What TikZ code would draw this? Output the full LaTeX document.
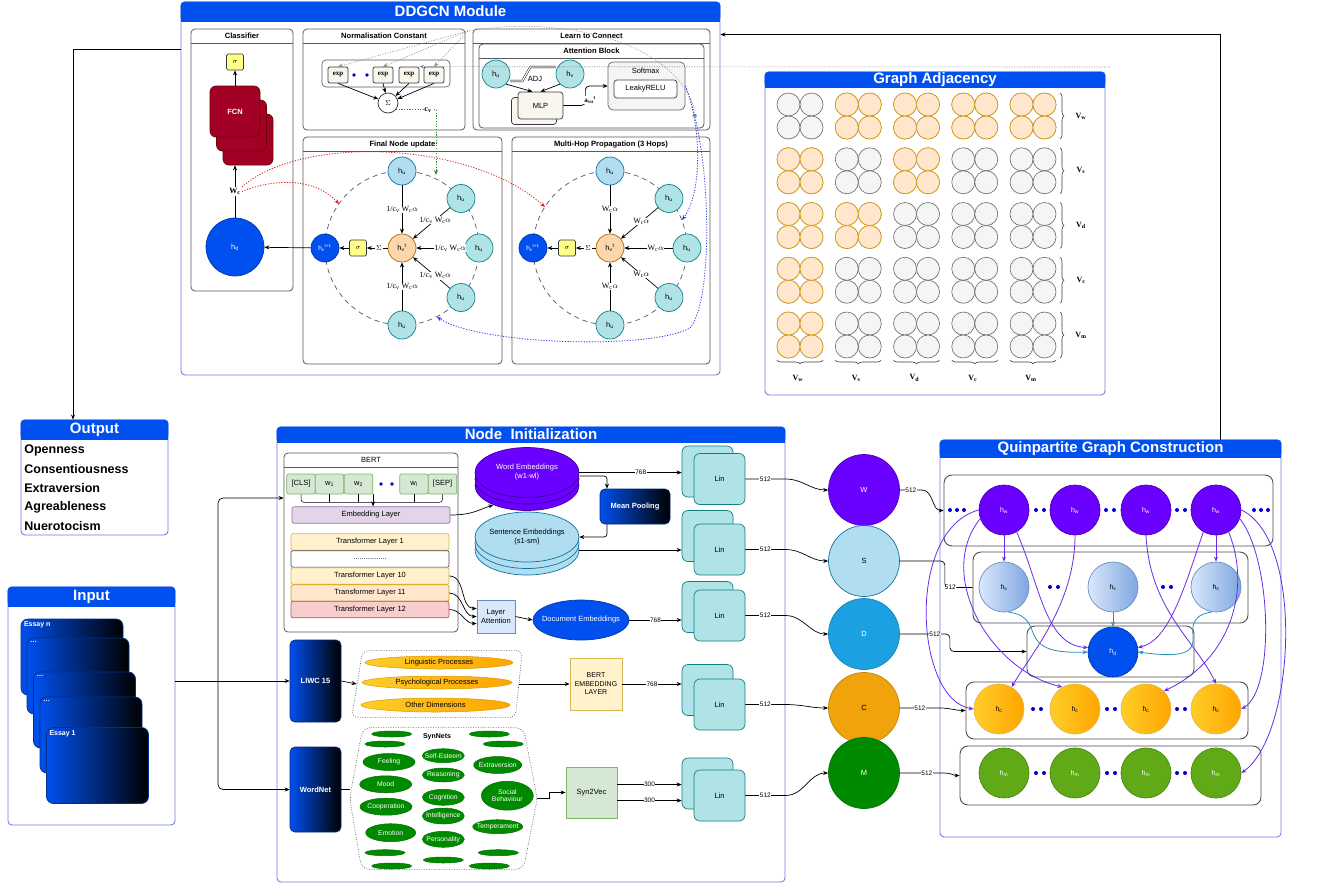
\documentclass[tikz,border=0pt]{standalone}
\usepackage{amsmath}
\usepackage{fontspec}
\setmainfont{Liberation Sans}
\newfontfamily\timesf{Liberation Serif}
\usepackage{tikz}
\usetikzlibrary{arrows.meta,positioning,shapes.geometric,decorations.pathreplacing}

\definecolor{hdrblue}{HTML}{0050EF}
\definecolor{panelln}{HTML}{6F7CE3}
\definecolor{dotblue}{HTML}{0000CC}
\definecolor{tealf}{HTML}{B0E3E6}
\definecolor{teald}{HTML}{0E8088}
\definecolor{lbf}{HTML}{B1DDF0}
\definecolor{lbd}{HTML}{10739E}
\definecolor{orf}{HTML}{FAD7AC}
\definecolor{ord}{HTML}{B46504}
\definecolor{adjof}{HTML}{FFE6CC}
\definecolor{adjod}{HTML}{D79B00}
\definecolor{adjgf}{HTML}{F5F5F5}
\definecolor{adjgd}{HTML}{666666}
\definecolor{wepur}{HTML}{6A00FF}
\definecolor{fcnred}{HTML}{A20025}
\definecolor{fcnd}{HTML}{6F0000}
\definecolor{sigf}{HTML}{FFFF88}
\definecolor{sigd}{HTML}{36393D}
\definecolor{syngreen}{HTML}{008A00}
\definecolor{hmgreen}{HTML}{60A917}
\definecolor{dcyan}{HTML}{1BA1E2}
\definecolor{corange}{HTML}{F0A30A}
\definecolor{tokf}{HTML}{D5E8D4}
\definecolor{tokd}{HTML}{82B366}
\definecolor{embf}{HTML}{E1D5E7}
\definecolor{embd}{HTML}{9673A6}
\definecolor{tly}{HTML}{FFF2CC}
\definecolor{tlyd}{HTML}{D6B656}
\definecolor{tlo}{HTML}{FFE6CC}
\definecolor{tlod}{HTML}{D79B00}
\definecolor{tlr}{HTML}{F8CECC}
\definecolor{tlrd}{HTML}{B85450}
\definecolor{laf}{HTML}{DAE8FC}
\definecolor{lad}{HTML}{6C8EBF}
\definecolor{hsr}{HTML}{7EA6E0}
\definecolor{mlpf}{HTML}{F9F7ED}
\definecolor{yor}{HTML}{FFCD28}
\definecolor{dor}{HTML}{FFA500}
\definecolor{epur}{HTML}{6A2BE8}
\definecolor{eteal}{HTML}{2A8FB0}
\definecolor{rdot}{HTML}{E02020}
\definecolor{gdot}{HTML}{2E8B2E}
\definecolor{bdot}{HTML}{2B3BEB}

\tikzset{
    %Define standard arrow tip
    >={Stealth[length=5pt,width=4pt]},
    %big panels with a blue header
    panel/.style={rounded corners=4pt, draw=panelln, fill=white, line width=0.9pt},
    hdrtxt/.style={text=white, font=\fontsize{15}{16}\selectfont\bfseries},
    %inner boxes
    subbox/.style={rounded corners=4pt, draw=black!65, line width=0.8pt},
    subtxt/.style={font=\fontsize{7.6}{8}\selectfont\bfseries},
    qrow/.style={rounded corners=8pt, draw=black!70, line width=0.9pt},
    %circles
    hnode/.style={circle, draw, inner sep=0pt, minimum size=#1},
    hn/.style={hnode=50, font=\fontsize{7}{8}\selectfont},
    bigc/.style={hnode=71, font=\fontsize{7.5}{8}\selectfont},
    %small boxes
    sigbox/.style={rounded corners=1.5pt, fill=sigf, draw=sigd, minimum width=17, minimum height=16, inner sep=0pt, font=\fontsize{7}{8}\selectfont\bfseries},
    expbox/.style={rounded corners=2pt, fill=mlpf, draw=sigd, minimum width=20, minimum height=16, inner sep=0pt, font=\timesf\fontsize{7}{8}\selectfont\bfseries},
    fcnbox/.style={rounded corners=6pt, fill=fcnred, draw=fcnd, minimum width=50, minimum height=51, text=white, font=\fontsize{7.5}{8}\selectfont\bfseries},
    mlpbox/.style={rounded corners=3pt, fill=mlpf, draw=sigd, minimum width=45, minimum height=27},
    softbox/.style={rounded corners=5pt, fill=adjgf, draw=adjgd, minimum width=77, minimum height=48},
    lrelu/.style={rounded corners=3pt, fill=white, draw=black!75, minimum width=63, minimum height=18},
    tok/.style={rounded corners=2pt, fill=tokf, draw=tokd, minimum width=28.5, minimum height=20, inner sep=0pt},
    lay/.style={rounded corners=2pt, minimum width=158, minimum height=16.5, inner sep=0pt},
    labox/.style={fill=laf, draw=lad, minimum width=38, minimum height=33, inner sep=0pt, align=center},
    ell/.style={ellipse, inner sep=0pt},
    grad/.style={rounded corners=5pt, left color=hdrblue, right color=black, draw=hdrblue!50!black, text=white, font=\fontsize{7.5}{9}\selectfont\bfseries, inner sep=0pt},
    linbox/.style={rounded corners=6pt, fill=tealf, draw=teald, minimum width=51, minimum height=51},
    bebox/.style={fill=tly, draw=tlyd, minimum width=52, minimum height=52, inner sep=0pt, align=center, font=\fontsize{7}{8.5}\selectfont},
    s2vbox/.style={fill=tokf, draw=tokd, minimum width=51, minimum height=51},
    orell/.style={ellipse, inner sep=0pt, left color=yor, right color=dor, draw=adjod, line width=0.5pt},
    syn/.style={ellipse, inner sep=0pt, fill=syngreen, draw=syngreen!80!black, line width=0.5pt},
    syntxt/.style={text=white, font=\fontsize{6.8}{7.5}\selectfont, align=center},
    card/.style={rounded corners=7pt, left color=hdrblue, right color=black, draw=hdrblue!60!black, minimum width=102, minimum height=76},
    cardtxt/.style={text=white, font=\fontsize{7}{8}\selectfont\bfseries, inner sep=3pt},
    outitem/.style={font=\fontsize{12.5}{14}\selectfont\bfseries, inner sep=0pt},
    adjg/.style={fill=adjgf, draw=adjgd, line width=0.6pt},
    adjo/.style={fill=adjof, draw=adjod, line width=0.6pt},
    brc/.style={decorate, decoration={brace, amplitude=4pt}, draw=black!75, line width=0.6pt},
    % labels on connectors
    elbl/.style={fill=white, inner sep=0.5pt, font=\timesf\fontsize{8}{9}\selectfont},
    blbl/.style={fill=white, inner sep=0.5pt, font=\timesf\fontsize{8}{9}\selectfont\bfseries},
    nlbl/.style={fill=white, inner sep=0.5pt, font=\fontsize{6.5}{7}\selectfont},
    % connectors
    pe/.style={->, draw=epur, line width=0.8pt},
    te/.style={->, draw=eteal, line width=0.8pt},
    rdl/.style={->, draw=rdot, dash pattern=on 1.2pt off 1.5pt, line width=0.8pt},
    gdl/.style={->, draw=gdot, dash pattern=on 1.2pt off 1.5pt, line width=0.8pt},
    bdl/.style={->, draw=bdot, dash pattern=on 1.2pt off 1.5pt, line width=0.8pt},
    ydl/.style={draw=black!45, dash pattern=on 1pt off 1.5pt, line width=0.6pt},
    ddl/.style={draw=black!65, dash pattern=on 5pt off 4pt, line width=0.7pt}
}

\begin{document}
\begin{tikzpicture}[x=1pt, y=-1pt, line width=0.7pt, font=\fontsize{7.5}{9}\selectfont]
\useasboundingbox (0,0) rectangle (1325,887);

% panels
\node[panel, minimum width=539, minimum height=373] (ddgcn) at (450.5,188.5) {};
\node[panel, minimum width=340, minimum height=323] (gadj) at (935,233.5) {};
\node[panel, minimum width=147, minimum height=115] (outp) at (94.5,477.5) {};
\node[panel, minimum width=167, minimum height=238] (inp) at (91.5,706) {};
\node[panel, minimum width=508, minimum height=455] (ninit) at (531,654.5) {};
\node[panel, minimum width=341, minimum height=397] (quin) at (1110.5,638.5) {};
\foreach \p/\hh/\hm/\lab in {ddgcn/20/10/DDGCN Module, gadj/16/8/Graph Adjacency, outp/20/10/Output,
    inp/20/10/Input, ninit/16/8/Node\ \ Initialization, quin/18/9/Quinpartite Graph Construction}{
  \fill[hdrblue, rounded corners=4pt] (\p.north west) rectangle ([yshift=-\hh pt]\p.north east);
  \fill[hdrblue] ([yshift=-\hm pt]\p.north west) rectangle ([yshift=-\hh pt]\p.north east);
  \node[hdrtxt] (\p-t) at ([yshift=-\hm pt]\p.north) {\lab};
}

%---------------- DDGCN module
\node[subbox, minimum width=102, minimum height=262] (clsf) at (242,160) {};
\node[subbox, minimum width=162, minimum height=101] (norm) at (384,79.5) {};
\node[subbox, minimum width=237, minimum height=101] (learn) at (591.5,79.5) {};
\node[subbox, minimum width=199, minimum height=227] (fnu) at (402.5,250.5) {};
\node[subbox, minimum width=198, minimum height=227] (mhp) at (611,250.5) {};
\foreach \b/\lab in {clsf/Classifier, norm/Normalisation Constant, learn/Learn to Connect,
    fnu/Final Node update, mhp/Multi-Hop Propagation (3 Hops)}{
  \draw[subbox] ([yshift=-15pt]\b.north west) -- ([yshift=-15pt]\b.north east);
  \node[subtxt] (\b-t) at ([yshift=-7.5pt]\b.north) {\lab};
}
\node[subbox, minimum width=225, minimum height=84] (attn) at (591.5,86) {};
\draw[subbox] ([yshift=-15pt]attn.north west) -- ([yshift=-15pt]attn.north east);
\node[subtxt] (attn-t) at ([yshift=-7.5pt]attn.north) {Attention Block};

% classifier
\node[sigbox] (sig0) at (235,62) {$\sigma$};
\node[fcnbox] (fcn3) at (248,139.5) {};
\node[fcnbox] (fcn2) at (241.5,125.5) {};
\node[fcnbox] (fcn) at (235,111.5) {FCN};
\node[hnode=58, fill=hdrblue, draw=hdrblue!70!black, text=white] (hdc) at (235,247) {h\textsubscript{d}};
\draw[->] (fcn.north) -- (sig0.south);
\draw[->] (hdc.north) -- node[blbl, inner sep=1pt] (wc) {W\textsubscript{c}} (hdc.north |- fcn3.south);

% normalisation constant
\node[subbox, line width=0.6pt, minimum width=128, minimum height=27] (expg) at (386,73.5) {};
\node[expbox] (exp1) at (338,75) {exp};
\node[expbox] (exp2) at (383,75) {exp};
\node[expbox] (exp3) at (409,75) {exp};
\node[expbox] (exp4) at (434,75) {exp};
\fill[dotblue] (354,75) circle (1.8) (367,75) circle (1.8);
\node[hnode=20, fill=white, draw=black!80] (sum0) at (388,103) {$\Sigma$};
\foreach \e in {exp1,exp2,exp3,exp4} \draw[->] (\e.south) -- (sum0);
\coordinate (cvin) at (436,175);
\draw[gdl] (sum0.-40) -| node[blbl, pos=0.4] {c\textsubscript{v}} (cvin);

% learn to connect
\node[hnode=28, fill=tealf, draw=teald] (hu0) at (496,74) {h\textsubscript{u}};
\node[hnode=28, fill=tealf, draw=teald] (hv0) at (570,74) {h\textsubscript{v}};
\draw[double, double distance=1.2pt, line width=0.45pt] ([yshift=-7pt]hu0.east) -- ++(12,0) -- ++(8,-14) -- ([yshift=7pt]hv0.west);
\node (adj) at (535,79) {ADJ};
\node[mlpbox] (mlp2) at (534,111) {};
\node[mlpbox] (mlp) at (540.5,105.5) {MLP};
\draw[->] (hu0.-45) -- ([xshift=-8pt]mlp.north);
\draw[->] (hv0.-135) -- (mlp.north);
\node[softbox] (soft) at (646.5,86) {};
\node[lrelu] (lrelu) at (645.5,89) {LeakyRELU};
\node[above=2pt of lrelu] (softt) {Softmax};
\draw[->, rounded corners=4pt] (mlp.east) -- ++(22,0) |- (soft.west);
\node[blbl, font=\timesf\fontsize{7}{8}\selectfont\bfseries] (avu) at (590,100) {a\textsubscript{vu}\textsuperscript{t}};
\node (alph) at (695,116) {$\alpha$};

% final node update
\node[hnode=28, fill=orf, draw=ord] (hvt1) at (402,248) {h\textsubscript{v}\textsuperscript{t}};
\draw[ddl] (hvt1.center) circle (77);
\node[hnode=28, fill=lbf, draw=lbd] (fu1) at (402,171) {h\textsubscript{u}};
\node[hnode=28, fill=tealf, draw=teald] (fu2) at (461,198.5) {h\textsubscript{u}};
\node[hnode=28, fill=tealf, draw=teald] (fu3) at (479,248) {h\textsubscript{u}};
\node[hnode=28, fill=tealf, draw=teald] (fu4) at (461,297.5) {h\textsubscript{u}};
\node[hnode=28, fill=tealf, draw=teald] (fu5) at (402,325) {h\textsubscript{u}};
\node[hnode=28, fill=hdrblue, draw=hdrblue!70!black, text=white, font=\fontsize{6.5}{7}\selectfont] (fnext) at (325,248) {h\textsubscript{v}\textsuperscript{t+1}};
\node[sigbox] (sig1) at (358,248) {$\sigma$};
\node[inner sep=1pt] (sum1) at (379,248) {$\Sigma$};
\draw (hvt1) -- (sum1);
\draw[->] (sum1) -- (sig1);
\draw[->] (sig1) -- (fnext);
\draw[->] (fnext) -- (hdc);
\foreach \u/\ps in {fu1/0.5, fu2/0.4, fu3/0.3, fu4/0.4, fu5/0.5}
  \draw[->] (\u) -- node[elbl, pos=\ps] {1/c\textsubscript{v} W\textsubscript{c}$\alpha$} (hvt1);

% multi-hop propagation
\node[hnode=28, fill=orf, draw=ord] (hvt2) at (610,248) {h\textsubscript{v}\textsuperscript{t}};
\draw[ddl] (hvt2.center) circle (77);
\node[hnode=28, fill=lbf, draw=lbd] (mu1) at (610,171) {h\textsubscript{u}};
\node[hnode=28, fill=tealf, draw=teald] (mu2) at (669,198.5) {h\textsubscript{u}};
\node[hnode=28, fill=tealf, draw=teald] (mu3) at (687,248) {h\textsubscript{u}};
\node[hnode=28, fill=tealf, draw=teald] (mu4) at (669,297.5) {h\textsubscript{u}};
\node[hnode=28, fill=tealf, draw=teald] (mu5) at (610,325) {h\textsubscript{u}};
\node[hnode=28, fill=hdrblue, draw=hdrblue!70!black, text=white, font=\fontsize{6.5}{7}\selectfont] (mnext) at (533,248) {h\textsubscript{v}\textsuperscript{t+1}};
\node[sigbox] (sig2) at (567,248) {$\sigma$};
\node[inner sep=1pt] (sum2) at (588,248) {$\Sigma$};
\draw (hvt2) -- (sum2);
\draw[->] (sum2) -- (sig2);
\draw[->] (sig2) -- (mnext);
\foreach \u/\ps in {mu1/0.5, mu2/0.45, mu3/0.35, mu4/0.45, mu5/0.5}
  \draw[->] (\u) -- node[elbl, pos=\ps] {W\textsubscript{c}$\alpha$} (hvt2);

%---------------- graph adjacency
\foreach \rr in {0,...,4} \foreach \cc in {0,...,4} \foreach \a in {0,1} \foreach \b in {0,1}
  \draw[adjg] ({788.5+58.25*\cc+23*\a},{104.5+54.75*\rr+23*\b}) circle (11.5);
\foreach \rr/\cc in {0/1,0/2,0/3,0/4,1/0,1/2,2/0,2/1,3/0,4/0} \foreach \a in {0,1} \foreach \b in {0,1}
  \draw[adjo] ({788.5+58.25*\cc+23*\a},{104.5+54.75*\rr+23*\b}) circle (11.5);
\foreach \rr/\l in {0/w,1/s,2/d,3/c,4/m}{
  \draw[brc] (1060,{93+54.75*\rr}) -- (1060,{139+54.75*\rr});
  \node[font=\timesf\fontsize{8}{9}\selectfont\bfseries] (rv\rr) at (1081,{116+54.75*\rr}) {V\textsubscript{\l}};
}
\foreach \cc/\l in {0/w,1/s,2/d,3/c,4/m}{
  \draw[brc] ({823+58.25*\cc},360) -- ({777+58.25*\cc},360);
  \node[font=\timesf\fontsize{8}{9}\selectfont\bfseries] (cv\cc) at ({798+58.25*\cc},378) {V\textsubscript{\l}};
}

%---------------- output
\foreach \lab [count=\i from 0] in {Openness, Consentiousness, Extraversion, Agreableness, Nuerotocism}
  \node[outitem, anchor=west] (o\i) at (24,{450+19*\i}) {\lab};
\draw[->] ([yshift=-48pt]ddgcn.north west) -| ([xshift=-21.5pt]outp.north);

%---------------- input
\foreach \px/\py/\lab [count=\i] in {72/657/Essay n, 78/676/\ldots, 84.5/710/\ldots, 91/735/\ldots, 97.5/765.5/Essay 1}
  \node[card, label={[anchor=north west, cardtxt]north west:\lab}] (card\i) at (\px,\py) {};

%---------------- node initialization
\node[subbox, minimum width=174, minimum height=179] (bert) at (371,542.5) {};
\draw[subbox] ([yshift=-15pt]bert.north west) -- ([yshift=-15pt]bert.north east);
\node (bert-t) at ([yshift=-7.5pt]bert.north) {BERT};
\foreach \nm/\px/\lab in {cls/301/[CLS], w1/329.5/w\textsubscript{1}, w2/358.5/w\textsubscript{2}, wl/414/w\textsubscript{l}, sep/442.5/[SEP]}
  \node[tok] (\nm) at (\px,484) {\lab};
\fill[dotblue] (381,484) circle (1.8) (392,484) circle (1.8);
\draw[line width=0.5pt, rounded corners=3pt] (cls.south) -- ++(0,8) -| (sep.south);
\foreach \nm in {w1,w2,wl} \draw[line width=0.5pt] (\nm.south) -- ++(0,8);
\node[lay, fill=embf, draw=embd] (emb) at (371,515) {Embedding Layer};
\draw[->] (w2.south east) -- (w2.south east |- emb.north);
\node[lay, fill=tly, draw=tlyd] (tl1) at (370,542) {Transformer Layer 1};
\node[lay, fill=white, draw=black!70] (tldots) at (370,559) {................};
\node[lay, fill=tly, draw=tlyd] (tl10) at (370,576) {Transformer Layer 10};
\node[lay, fill=tlo, draw=tlod] (tl11) at (370,593) {Transformer Layer 11};
\node[lay, fill=tlr, draw=tlrd] (tl12) at (370,609.5) {Transformer Layer 12};
\node[labox] (latt) at (496,616.5) {Layer\\Attention};
\draw[->] (tl10.east) to[out=0,in=180] ([yshift=8pt]latt.west);
\draw[->] (tl11.east) to[out=0,in=180] (latt.west);
\draw[->] (tl12.east) to[out=0,in=180] ([yshift=-7pt]latt.west);
\node[ell, fill=hdrblue, draw=hdrblue!70!black, minimum width=96, minimum height=40,
  label={[text=white]center:Document Embeddings}] (doc) at (581,620) {};
\draw[->] (latt.east) -- (doc.west);

% embeddings stacks
\foreach \nm/\py in {we3/485.5, we2/479}
  \node[ell, fill=wepur, draw=wepur!60!black, minimum width=104, minimum height=50] (\nm) at (527,\py) {};
\node[ell, fill=wepur, draw=wepur!60!black, minimum width=104, minimum height=50,
  label={[text=white, align=center]center:Word Embeddings\\(w1-wl)}] (we) at (527,472.5) {};
\foreach \nm/\py in {se3/550, se2/543.5}
  \node[ell, fill=lbf, draw=lbd, minimum width=104, minimum height=50] (\nm) at (527,\py) {};
\node[ell, fill=lbf, draw=lbd, minimum width=104, minimum height=50,
  label={[align=center]center:Sentence Embeddings\\(s1-sm)}] (se) at (527,537) {};
\draw[->] (emb.east) .. controls (472,515) and (478,510) .. (we3.-150);
\node[grad, minimum width=70, minimum height=35] (mp) at (635,506.5) {Mean Pooling};
\draw[->, rounded corners=3pt] ([yshift=-3.5pt]we.east) -| ([xshift=-28pt]mp.north);
\draw[->, rounded corners=3pt] ([xshift=-28pt]mp.south) |- (se.east);

% linear layers
\foreach \i/\yb/\yf in {1/471.5/479, 2/536/549.5, 3/607/615.5, 4/690/704.5, 5/783.5/795.5}{
  \node[linbox] (linb\i) at (707.5,\yb) {};
  \node[linbox] (lin\i) at (719.5,\yf) {Lin};
}
\draw[->] (we.east) -- node[nlbl, pos=0.6] {768} (we.east -| linb1.west);
\draw[->] (se3.east) -- (se3.east -| linb2.west);
\draw[->] (doc.east) -- node[nlbl] {768} (doc.east -| linb3.west);

% LIWC branch
\node[grad, minimum width=51, minimum height=82] (liwc) at (315.5,681) {LIWC 15};
\node[minimum width=170, minimum height=66] (liwcc) at (437,684) {};
\draw[ydl, draw=black!60] ([xshift=11pt]liwcc.north west) [rounded corners=6pt] -- (liwcc.north east)
  -- ([xshift=-7pt]liwcc.south east) -- (liwcc.south west) -- cycle;
\node[orell, minimum width=148, minimum height=13, label=center:Linguistic Processes] (lingp) at (439,662.5) {};
\node[orell, minimum width=150, minimum height=13, label=center:Psychological Processes] (psyp) at (437,682.5) {};
\node[orell, minimum width=149, minimum height=14, label=center:Other Dimensions] (othd) at (435.5,705) {};
\draw[->] (liwc.east) -- ([xshift=5pt]liwcc.west);
\node[bebox] (bertel) at (596,684) {BERT\\EMBEDDING\\LAYER};
\draw[->] ([xshift=-3pt]liwcc.east) -- (bertel.west);
\draw[->] (bertel.east) -- node[nlbl] {768} (bertel.east -| linb4.west);

% WordNet branch
\node[grad, minimum width=51, minimum height=85] (wnet) at (315.5,789.5) {WordNet};
\node[minimum width=187, minimum height=141] (synb) at (443.5,798.5) {};
\draw[ydl, draw=black!60, rounded corners=8pt] ([xshift=13pt]synb.north west) -- ([xshift=-14pt]synb.north east)
  -- (synb.east) -- ([xshift=-14pt]synb.south east) -- ([xshift=12pt]synb.south west) -- (synb.west) -- cycle;
\node[font=\fontsize{7}{8}\selectfont\bfseries] (synt) at (437,737) {SynNets};
\foreach \px/\py [count=\i] in {391.7/734, 385/744, 489.3/734, 503.3/744, 385/852.7, 391.7/866, 443.3/860, 498.3/852.7, 489.3/866}
  \node[syn, minimum width=40, minimum height=6] (blank\i) at (\px,\py) {};
\foreach \nm/\px/\py/\ew/\eh/\lab in {feel/389/762/52/17/Feeling, selfe/443.3/755.7/42/14/Self-Esteem,
    extra/497.7/765/48/17/Extraversion, reas/443.3/775/42/14/Reasoning, mood/385.7/784.3/52/17/Mood,
    socb/507.3/795.7/52/29/Social\\Behaviour, cogn/443.3/797.3/42/16/Cognition, coop/386/806.7/52/17/Cooperation,
    intel/443.3/816/42/16/Intelligence, temp/497.7/826.7/50/14/Temperament, emot/390.7/832.7/50/18/Emotion,
    pers/443.3/839.3/42/16/Personality}
  \node[syn, minimum width=\ew, minimum height=\eh, label={[syntxt]center:\lab}] (\nm) at (\px,\py) {};
\draw (wnet.east) -- (wnet.east -| synb.west);
\node[s2vbox] (s2v) at (591.5,792.5) {Syn2Vec};
\draw[->] (synb.east) -- ++(12,0) |- (s2v.west);
\draw[->] ([yshift=8pt]s2v.east) -- node[nlbl] {300} ([yshift=8pt]s2v.east -| linb5.west);
\draw[->] ([yshift=-8pt]s2v.east) -- node[nlbl] {300} ([yshift=-8pt]s2v.east -| linb5.west);

% input fork
\coordinate (fork) at (218,681);
\draw (inp.east |- fork) -- (fork);
\draw[->, rounded corners=5pt] (fork) |- ([yshift=44.5pt]bert.west);
\draw[->] (fork) -- (liwc.west);
\draw[->, rounded corners=5pt] (fork) |- (wnet.west);

% type nodes
\node[bigc, fill=wepur, draw=wepur!70!black, text=white] (cW) at (864,490) {W};
\node[bigc, fill=lbf, draw=lbd] (cS) at (864,561) {S};
\node[bigc, fill=dcyan, draw=dcyan!80!black, text=white] (cD) at (864,634) {D};
\node[bigc, fill=corange, draw=corange!80!black] (cC) at (864,708) {C};
\node[bigc, fill=syngreen, draw=syngreen!80!black, text=white] (cM) at (864,773) {M};
\foreach \i/\c in {1/cW, 2/cS, 3/cD, 4/cC, 5/cM}
  \draw[->] (lin\i.east) -- node[nlbl] {512} ++(40,0) to[out=0,in=180] (\c.west);

%---------------- quinpartite graph
\node[qrow, minimum width=329, minimum height=71] (qw) at (1108.5,510.5) {};
\node[qrow, minimum width=275, minimum height=71] (qs) at (1110.5,587.5) {};
\node[qrow, minimum width=167, minimum height=51] (qd) at (1110.5,651.5) {};
\node[qrow, minimum width=282, minimum height=57] (qc) at (1107,710.5) {};
\node[qrow, minimum width=301, minimum height=59] (qm) at (1110.5,775.5) {};
\foreach \px [count=\i] in {1004,1075,1146,1216}
  \node[hn, fill=wepur, draw=wepur!70!black, text=white] (hw\i) at (\px,510) {h\textsubscript{w}};
\foreach \px [count=\i] in {1004,1113,1216}
  \node[hn, left color=laf, right color=hsr, draw=lad] (hs\i) at (\px,587) {h\textsubscript{s}};
\node[hn, fill=hdrblue, draw=hdrblue!70!black, text=white] (hdq) at (1113,652) {h\textsubscript{d}};
\foreach \px [count=\i] in {999,1075,1146,1216}
  \node[hn, left color=yor, right color=dor, draw=adjod!70] (hc\i) at (\px,709) {h\textsubscript{c}};
\foreach \px [count=\i] in {1004,1075,1146,1216}
  \node[hn, fill=hmgreen, draw=hmgreen!80!black, text=white] (hm\i) at (\px,773) {h\textsubscript{m}};
\foreach \px/\py in {950/510, 957/510, 964/510, 1036/510, 1044/510, 1106/510, 1114/510, 1177/510, 1185/510,
    1254/510, 1261/510, 1268/510, 1050/587, 1058/587, 1163/587, 1171/587, 1033/709, 1041/709, 1107/709, 1115/709,
    1177/709, 1185/709, 1036/773, 1044/773, 1107/773, 1115/773, 1177/773, 1185/773}
  \fill[dotblue] (\px,\py) circle (2);

\draw[->] (cW.east) -- node[nlbl] {512} ++(22,0) to[out=0,in=180] (qw.west);
\draw[rounded corners=4pt] (cS.east) -- ++(45,0) |- node[nlbl, pos=0.6] {512} (qs.west);
\draw[->, rounded corners=4pt] (cD.east) -- node[nlbl, pos=0.7] {512} ++(50,0) |- (qd.west);
\draw[->] (cC.east) -- node[nlbl] {512} ++(40,0) to[out=0,in=180] (qc.west);
\draw[->] (cM.east) -- node[nlbl, pos=0.6] {512} ++(45,0) to[out=0,in=180] (qm.west);

% purple edges
\draw[pe] (hw1.south) -- (hs1.north);
\draw[pe] (hw4.south) -- (hs3.north);
\draw[pe] (hw1.-60) .. controls (1040,585) and (1045,645) .. (hdq.170);
\draw[pe] (hw4.-120) .. controls (1185,585) and (1170,640) .. (hdq.10);
\draw[pe] (hw1.west) .. controls (905,530) and (915,700) .. (hc1.west);
\draw[pe] (hw1.-160) .. controls (935,575) and (990,670) .. (hc2.120);
\draw[pe] (hw2.south) .. controls (1075,605) and (1030,655) .. (hc1.60);
\draw[pe] (hw3.south) .. controls (1150,610) and (1195,640) .. (hc4.north);
\draw[pe] (hw4.-60) .. controls (1252,590) and (1230,660) .. (hc3.45);
\draw[pe] (hw4.-20) .. controls (1272,560) and (1275,690) .. (hc4.east);
\draw[pe] (hw4.east) .. controls (1305,540) and (1295,735) .. (hm4.east);
% teal edges
\draw[te] (hs1.-80) .. controls (1050,618) and (1010,655) .. (hdq.west);
\draw[te] (hs2.south) -- (hdq.north);
\draw[te] (hs3.-100) .. controls (1165,620) and (1232,665) .. (hdq.east);

\draw[->] ([xshift=109.5pt]quin.north) |- ([yshift=-33pt]ddgcn.north east);

%---------------- dotted feedback links
\coordinate (fnred) at (339,204);
\coordinate (mhred) at (545,207);
\draw[rdl] (wc.east) .. controls (275,178) and (315,178) .. (fnred);
\draw[rdl] (wc.north east) .. controls (300,135) and (470,140) .. (mhred);
\coordinate (mhin) at (682,220);
\coordinate (fnin) at (437,317);
\draw[bdl] (soft.east) .. controls (700,120) and (704,190) .. (mhin);
\draw[bdl] (soft.east) .. controls (712,150) and (714,300) .. (690,328) .. controls (650,350) and (480,345) .. (fnin);
\coordinate (fan) at (468,31);
\draw[ydl] (alph.north) .. controls (675,40) and (560,15) .. (fan);
\foreach \e in {exp1,exp2,exp4} \draw[ydl,->] (fan) -- (\e.north);
\coordinate (adjtap) at (1110,67);
\draw[ydl,->] (adjtap) -- (exp3.north east);

\end{tikzpicture}
\end{document}
